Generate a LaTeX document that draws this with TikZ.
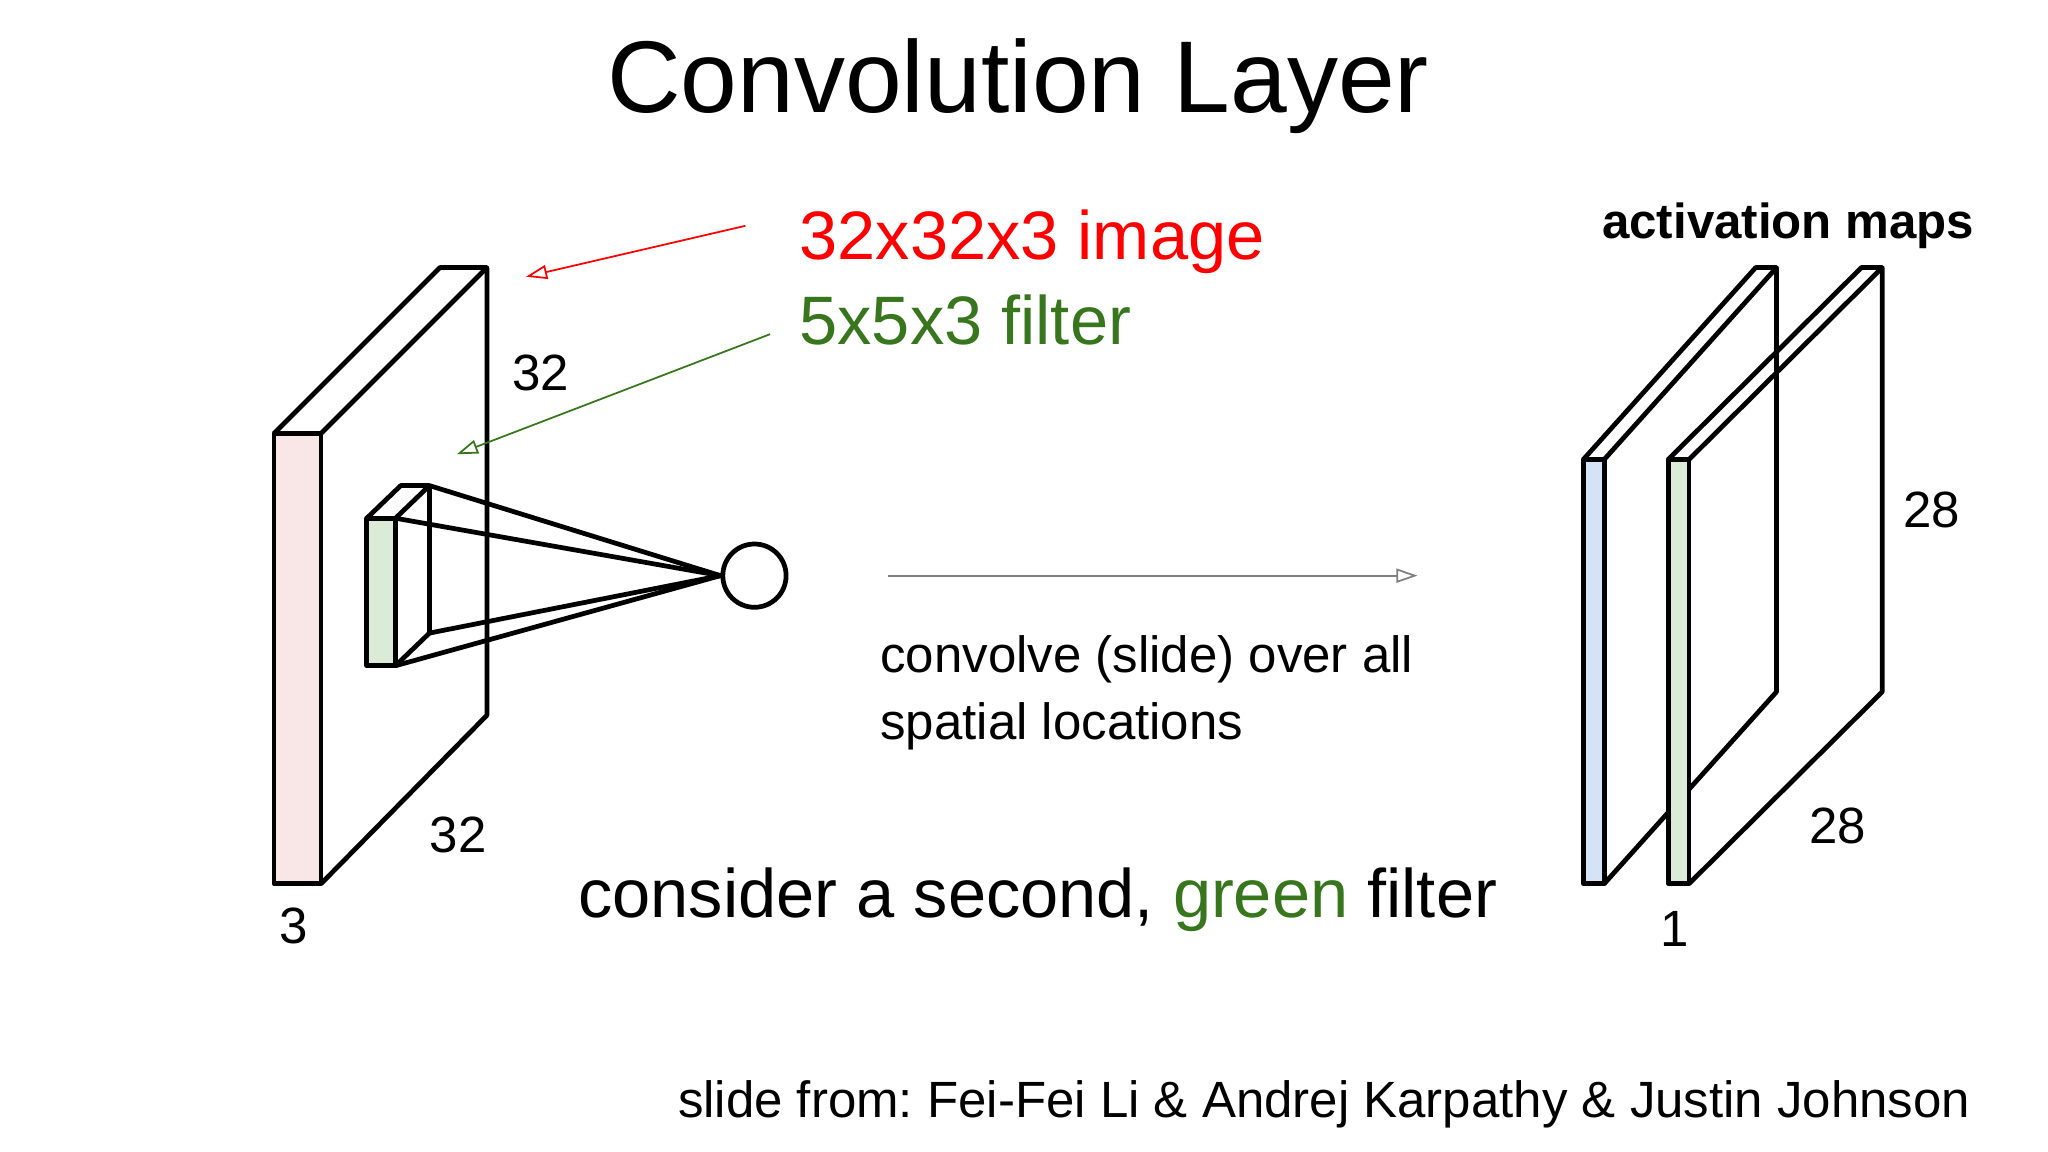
\documentclass[tikz,border=0pt]{standalone}
\usepackage{fontspec}
\setmainfont{Liberation Sans}
\usetikzlibrary{arrows.meta}
\definecolor{gtxt}{HTML}{38761D}
\definecolor{pinkf}{HTML}{F8E7E6}
\definecolor{greenf}{HTML}{DCEAD8}
\definecolor{bluef}{HTML}{D4E3F6}
\frenchspacing
\begin{document}
\begin{tikzpicture}[x=0.01305cm,y=-0.01305cm,
  edge/.style={line width=1.35pt,line join=round},
  lbl/.style={font=\fontsize{14.5}{17}\selectfont,inner sep=0pt},
  ptr/.style={-{Triangle[open,length=6pt,width=4pt]},line width=0.5pt}]
\useasboundingbox (0,0) rectangle (1569,882);
\node[font=\fontsize{29}{34}\selectfont] (title) at (780,66) {Convolution Layer};
% input volume
\draw[edge,fill=pinkf] (210,332) rectangle (246,677);
\draw[edge] (210,332) -- (337,205) -- (373,205) -- (246,332);
\draw[edge] (373,205) -- (373,548) -- (246,677);
% filter
\draw[edge,fill=greenf] (281,397) rectangle (303,510);
\draw[edge] (281,397) -- (307,372) -- (329,372) -- (303,397);
\draw[edge] (329,372) -- (329,485) -- (303,510);
\node[draw,line width=1.35pt,circle,inner sep=0pt,minimum size=18pt] (n) at (578,441) {};
\coordinate (f1) at (303,397); \coordinate (f2) at (329,372);
\coordinate (f3) at (329,485); \coordinate (f4) at (303,510);
\foreach \c in {f1,f2,f3,f4} \draw[edge] (\c) -- (n.west);
\node[lbl,anchor=west] (l32a) at (392,286) {32};
\node[lbl] (l32b) at (351,640) {32};
\node[lbl] (l3) at (225,709) {3};
% labels with arrows
\node[anchor=west,text=red,font=\fontsize{19.5}{23}\selectfont,inner sep=0pt] (img) at (612,185) {32x32x3 image};
\node[anchor=west,text=gtxt,font=\fontsize{19.5}{23}\selectfont,inner sep=0pt] (flt) at (612,245) {5x5x3 filter};
\coordinate (ra) at (571,173); \coordinate (rb) at (403,212);
\coordinate (ga) at (590,256); \coordinate (gb) at (350,348);
\draw[ptr,red] (ra) -- (rb);
\draw[ptr,gtxt] (ga) -- (gb);
% slide arrow
\coordinate (sa) at (680,441); \coordinate (sb) at (1086,441);
\draw[ptr,gray] (sa) -- (sb);
\node[lbl,anchor=west,align=left] (conv) at (674,531) {convolve (slide) over all\\[2pt]spatial locations};
\node[font=\fontsize{19.5}{23}\selectfont] (cons) at (795,689) {consider a second, \textcolor{gtxt}{green} filter};
% activation maps
\draw[edge,fill=bluef] (1213,352) rectangle (1229,677);
\draw[edge] (1213,352) -- (1345,205) -- (1361,205) -- (1229,352);
\draw[edge] (1361,205) -- (1361,530) -- (1229,677);
\draw[edge,fill=greenf] (1278,352) rectangle (1294,677);
\draw[edge] (1278,352) -- (1426,205) -- (1442,205) -- (1294,352);
\draw[edge] (1442,205) -- (1442,530) -- (1294,677);
\node[font=\bfseries\fontsize{14}{17}\selectfont] (act) at (1370,173) {activation maps};
\node[lbl] (l28a) at (1480,391) {28};
\node[lbl] (l28b) at (1408,633) {28};
\node[lbl] (l1) at (1283,712) {1};
\node[lbl,anchor=east] (src) at (1510,846) {slide from: Fei-Fei Li \& Andrej Karpathy \& Justin Johnson};
\end{tikzpicture}
\end{document}
